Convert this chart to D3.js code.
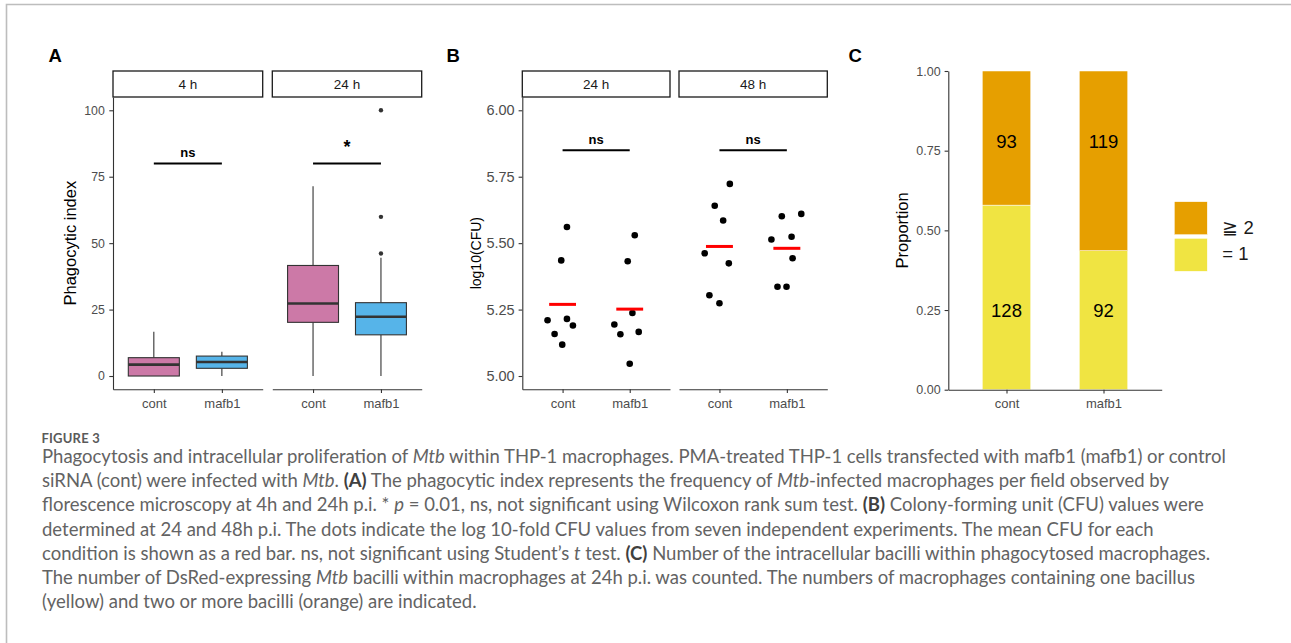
<!DOCTYPE html>
<html>
<head>
<meta charset="utf-8">
<script src="https://cdn.jsdelivr.net/npm/d3@7"></script>
<style>
  body { margin: 0; background: #fff; }
  svg { display: block; }
</style>
</head>
<body>
<div id="fig"></div>
<script>
// ---- data ----
const groups = ["cont", "mafb1"];

// A: phagocytic index, box stats
const phagoTimes = ["4 h", "24 h"];
const phagoBoxes = [
  { time: "4 h",  group: "cont",  min: 0, q1: 0,    median: 4.3,  q3: 6.9,  max: 16.7 },
  { time: "4 h",  group: "mafb1", min: 0, q1: 2.9,  median: 5.3,  q3: 7.5,  max: 9.1 },
  { time: "24 h", group: "cont",  min: 0, q1: 20.2, median: 27.3, q3: 41.6, max: 71.4 },
  { time: "24 h", group: "mafb1", min: 0, q1: 15.5, median: 22.3, q3: 27.6, max: 44.5 }
];
const phagoOutliers = [
  { time: "24 h", group: "mafb1", value: 46.1 },
  { time: "24 h", group: "mafb1", value: 59.9 },
  { time: "24 h", group: "mafb1", value: 100 }
];
const phagoSig = [
  { time: "4 h",  label: "ns", y: 80 },
  { time: "24 h", label: "*",  y: 80 }
];

// B: log10(CFU), seven experiments per condition (+ horizontal jitter as drawn)
const cfuTimes = ["24 h", "48 h"];
const cfu24cont   = [5.210, 5.158, 5.118, 5.215, 5.190, 5.435, 5.561];
const jit24cont   = [-0.224, -0.119, -0.005, 0.065, 0.154, -0.020, 0.065];
const cfu24mafb1  = [5.194, 5.157, 5.046, 5.237, 5.166, 5.432, 5.530];
const jit24mafb1  = [-0.229, -0.139, 0, 0.040, 0.134, -0.030, 0.075];
const cfu48cont   = [5.462, 5.304, 5.641, 5.274, 5.585, 5.424, 5.723];
const jit48cont   = [-0.219, -0.149, -0.070, 0, 0.055, 0.139, 0.154];
const cfu48mafb1  = [5.514, 5.336, 5.601, 5.336, 5.524, 5.443, 5.610];
const jit48mafb1  = [-0.229, -0.139, -0.075, -0.005, 0.070, 0.085, 0.214];
const cfuSig = [
  { time: "24 h", label: "ns", y: 5.85 },
  { time: "48 h", label: "ns", y: 5.85 }
];

// C: counts of macrophages by number of bacilli
const countOne = [128, 92];
const countTwoPlus = [93, 119];
const countLabelY = [0.25, 0.78];   // where the count labels sit (one, two+)
const legendLabels = ["≧ 2", "= 1"];

const yTicksA = [0, 25, 50, 75, 100];
const yTicksB = [5.00, 5.25, 5.50, 5.75, 6.00];
const yTicksC = [0, 0.25, 0.5, 0.75, 1];

const captionLines = [
  [["Phagocytosis and intracellular proliferation of "], ["Mtb", "i"], [" within THP-1 macrophages. PMA-treated THP-1 cells transfected with mafb1 (mafb1) or control"]],
  [["siRNA (cont) were infected with "], ["Mtb", "i"], [". "], ["(A)", "b"], [" The phagocytic index represents the frequency of "], ["Mtb", "i"], ["-infected macrophages per field observed by"]],
  [["florescence microscopy at 4h and 24h p.i. * "], ["p", "i"], [" = 0.01, ns, not significant using Wilcoxon rank sum test. "], ["(B)", "b"], [" Colony-forming unit (CFU) values were"]],
  [["determined at 24 and 48h p.i. The dots indicate the log 10-fold CFU values from seven independent experiments. The mean CFU for each"]],
  [["condition is shown as a red bar. ns, not significant using Student’s "], ["t", "i"], [" test. "], ["(C)", "b"], [" Number of the intracellular bacilli within phagocytosed macrophages."]],
  [["The number of DsRed-expressing "], ["Mtb", "i"], [" bacilli within macrophages at 24h p.i. was counted. The numbers of macrophages containing one bacillus"]],
  [["(yellow) and two or more bacilli (orange) are indicated."]]
];

// ---- setup ----
const W = 1291, H = 643;
const font = "'Liberation Sans', Arial, sans-serif";
const tickCol = "#4d4d4d";
const lineCol = "#333333";
const fillCol = { cont: "#CC79A7", mafb1: "#56B4E9" };

const svg = d3.select("#fig").append("svg")
  .attr("width", W).attr("height", H)
  .style("font-family", font);

svg.append("rect").attr("width", W).attr("height", H).attr("fill", "#fff");
// page frame (top and left)
svg.append("path")
  .attr("d", `M6.5,${H} V4.5 H${W}`)
  .attr("fill", "none").attr("stroke", "#bdbdbd").attr("stroke-width", 1.6);

function styleAxis(g, size) {
  g.select(".domain").attr("stroke", lineCol).attr("stroke-width", 1.1);
  g.selectAll(".tick line").attr("stroke", lineCol).attr("stroke-width", 1.1);
  g.selectAll(".tick text").attr("fill", tickCol).style("font-size", size + "px").style("font-family", font);
}

function strip(x0, x1, top, bottom, label) {
  svg.append("rect")
    .attr("x", x0).attr("y", top).attr("width", x1 - x0).attr("height", bottom - top)
    .attr("fill", "#fff").attr("stroke", "#1a1a1a").attr("stroke-width", 1.3);
  svg.append("text")
    .attr("x", (x0 + x1) / 2).attr("y", (top + bottom) / 2 + 4.8)
    .attr("text-anchor", "middle").style("font-size", "13.5px").attr("fill", "#1a1a1a")
    .text(label);
}

function panelLetter(x, label) {
  svg.append("text").attr("x", x).attr("y", 62)
    .style("font-size", "18.5px").style("font-weight", "bold").text(label);
}

// ================= Panel A =================
panelLetter(48.5, "A");
const stripTop = 71, plotTop = 97, plotBottom = 389.3;
const panelsA = [[113, 262.7], [272.3, 421.7]];

const yA = d3.scaleLinear().domain([-5, 105]).range([plotBottom, plotTop]);

phagoTimes.forEach((t, i) => {
  const [x0, x1] = panelsA[i];
  const x = d3.scalePoint().domain(groups).range([x0, x1]).padding(0.6);
  const step = x.step();
  strip(x0, x1, stripTop, plotTop, t);

  const gx = svg.append("g").attr("transform", `translate(0,${plotBottom})`)
    .call(d3.axisBottom(x).tickSize(3.7).tickSizeOuter(0).tickPadding(5.5));
  styleAxis(gx, 13);

  if (i === 0) {
    const gy = svg.append("g").attr("transform", `translate(${x0},0)`)
      .call(d3.axisLeft(yA).tickValues(yTicksA).tickSize(3.7).tickSizeOuter(0).tickPadding(4.5));
    styleAxis(gy, 12.3);
  }

  const bw = 0.75 * step;
  phagoBoxes.filter(d => d.time === t).forEach(d => {
    const cx = x(d.group);
    const g = svg.append("g");
    g.append("line").attr("x1", cx).attr("x2", cx).attr("y1", yA(d.q3)).attr("y2", yA(d.max))
      .attr("stroke", lineCol).attr("stroke-width", 1.1);
    g.append("line").attr("x1", cx).attr("x2", cx).attr("y1", yA(d.q1)).attr("y2", yA(d.min))
      .attr("stroke", lineCol).attr("stroke-width", 1.1);
    g.append("rect").attr("x", cx - bw / 2).attr("width", bw)
      .attr("y", yA(d.q3)).attr("height", yA(d.q1) - yA(d.q3))
      .attr("fill", fillCol[d.group]).attr("stroke", lineCol).attr("stroke-width", 1.1);
    g.append("line").attr("x1", cx - bw / 2).attr("x2", cx + bw / 2)
      .attr("y1", yA(d.median)).attr("y2", yA(d.median))
      .attr("stroke", lineCol).attr("stroke-width", 2.6);
  });
  svg.append("g").selectAll("circle")
    .data(phagoOutliers.filter(d => d.time === t))
    .join("circle")
    .attr("cx", d => x(d.group)).attr("cy", d => yA(d.value)).attr("r", 2.2)
    .attr("fill", lineCol);

  phagoSig.filter(d => d.time === t).forEach(s => {
    svg.append("line").attr("x1", x(groups[0])).attr("x2", x(groups[1]))
      .attr("y1", yA(s.y)).attr("y2", yA(s.y)).attr("stroke", "#000").attr("stroke-width", 2);
    const star = s.label === "*";
    svg.append("text").attr("x", (x(groups[0]) + x(groups[1])) / 2)
      .attr("y", yA(s.y) - (star ? 10.3 : 6.5))
      .attr("text-anchor", "middle").style("font-weight", "bold")
      .style("font-size", star ? "18px" : "13px").text(s.label);
  });
});

svg.append("text")
  .attr("transform", `translate(75.5,${(plotTop + plotBottom) / 2}) rotate(-90)`)
  .attr("text-anchor", "middle").style("font-size", "16.5px").text("Phagocytic index");

// ================= Panel B =================
panelLetter(446.5, "B");
const panelsB = [[522.3, 670], [679, 827.3]];
const yB = d3.scaleLinear().domain([4.95, 6.05]).range([plotBottom, plotTop]);
const cfuData = {
  "24 h": { cont: [cfu24cont, jit24cont], mafb1: [cfu24mafb1, jit24mafb1] },
  "48 h": { cont: [cfu48cont, jit48cont], mafb1: [cfu48mafb1, jit48mafb1] }
};

cfuTimes.forEach((t, i) => {
  const [x0, x1] = panelsB[i];
  const x = d3.scalePoint().domain(groups).range([x0, x1]).padding(0.6);
  const step = x.step();
  strip(x0, x1, stripTop, plotTop, t);

  const gx = svg.append("g").attr("transform", `translate(0,${plotBottom})`)
    .call(d3.axisBottom(x).tickSize(3.7).tickSizeOuter(0).tickPadding(5.5));
  styleAxis(gx, 13);
  if (i === 0) {
    const gy = svg.append("g").attr("transform", `translate(${x0},0)`)
      .call(d3.axisLeft(yB).tickValues(yTicksB).tickFormat(d3.format(".2f"))
        .tickSize(3.7).tickSizeOuter(0).tickPadding(4));
    styleAxis(gy, 14.5);
  }

  groups.forEach(grp => {
    const [vals, jit] = cfuData[t][grp];
    const pts = vals.map((v, k) => ({ v, j: jit[k] }));
    svg.append("g").selectAll("circle").data(pts).join("circle")
      .attr("cx", d => x(grp) + d.j * step).attr("cy", d => yB(d.v)).attr("r", 3.3)
      .attr("fill", "#000");
    const m = d3.mean(vals);
    svg.append("line")
      .attr("x1", x(grp) - 0.2 * step).attr("x2", x(grp) + 0.2 * step)
      .attr("y1", yB(m)).attr("y2", yB(m))
      .attr("stroke", "#ff0000").attr("stroke-width", 3);
  });

  cfuSig.filter(d => d.time === t).forEach(s => {
    svg.append("line").attr("x1", x(groups[0])).attr("x2", x(groups[1]))
      .attr("y1", yB(s.y)).attr("y2", yB(s.y)).attr("stroke", "#000").attr("stroke-width", 2);
    svg.append("text").attr("x", (x(groups[0]) + x(groups[1])) / 2)
      .attr("y", yB(s.y) - 6.3)
      .attr("text-anchor", "middle").style("font-weight", "bold").style("font-size", "13px")
      .text(s.label);
  });
});

svg.append("text")
  .attr("transform", `translate(481,${(plotTop + plotBottom) / 2 + 10}) rotate(-90)`)
  .attr("text-anchor", "middle").style("font-size", "14px").text("log10(CFU)");

// ================= Panel C =================
panelLetter(848.5, "C");
const xC = d3.scalePoint().domain(groups).range([948.3, 1161.7]).padding(0.6);
const yC = d3.scaleLinear().domain([0, 1]).range([389.7, 71]);
const barW = 0.5 * xC.step();
const orange = "#E69F00", yellow = "#F0E442";

const stacked = groups.map((g, i) => {
  const total = countOne[i] + countTwoPlus[i];
  return { group: g, one: countOne[i], two: countTwoPlus[i], p1: countOne[i] / total };
});

const bars = svg.append("g");
stacked.forEach(d => {
  bars.append("rect").attr("x", xC(d.group) - barW / 2).attr("width", barW)
    .attr("y", yC(d.p1)).attr("height", yC(0) - yC(d.p1))
    .attr("fill", yellow).attr("stroke", "#fff").attr("stroke-width", 0.5);
  bars.append("rect").attr("x", xC(d.group) - barW / 2).attr("width", barW)
    .attr("y", yC(1)).attr("height", yC(d.p1) - yC(1))
    .attr("fill", orange).attr("stroke", "#fff").attr("stroke-width", 0.5);
  bars.append("text").attr("x", xC(d.group)).attr("y", yC(countLabelY[0]) + 6.8)
    .attr("text-anchor", "middle").style("font-size", "18.5px").text(d.one);
  bars.append("text").attr("x", xC(d.group)).attr("y", yC(countLabelY[1]) + 6.8)
    .attr("text-anchor", "middle").style("font-size", "18.5px").text(d.two);
});

const gxC = svg.append("g").attr("transform", `translate(0,${yC(0)})`)
  .call(d3.axisBottom(xC).tickSize(3.7).tickSizeOuter(0).tickPadding(5));
styleAxis(gxC, 13);
const gyC = svg.append("g").attr("transform", `translate(${xC.range()[0]},0)`)
  .call(d3.axisLeft(yC).tickValues(yTicksC).tickFormat(d3.format(".2f"))
    .tickSize(3.7).tickSizeOuter(0).tickPadding(4));
styleAxis(gyC, 12.5);

svg.append("text")
  .attr("transform", `translate(908,${(yC(0) + yC(1)) / 2}) rotate(-90)`)
  .attr("text-anchor", "middle").style("font-size", "16.5px").text("Proportion");

// legend
const legX = 1174.3, legY = 201.7, keyW = 33, keyH = 33, keyGap = 3.6;
[orange, yellow].forEach((c, k) => {
  const y0 = legY + k * (keyH + keyGap);
  svg.append("rect").attr("x", legX).attr("y", y0).attr("width", keyW).attr("height", keyH)
    .attr("fill", c).attr("stroke", "#fff").attr("stroke-width", 0.5);
  svg.append("text").attr("x", legX + keyW + 15).attr("y", y0 + keyH / 2 + (k === 0 ? 15.5 : 5.5))
    .style("font-size", "18.5px").attr("fill", "#1a1a1a").text(legendLabels[k]);
});

// ================= caption =================
const capFont = "Lato, 'Open Sans', sans-serif";
svg.append("text").attr("x", 41.5).attr("y", 443)
  .style("font-family", capFont).style("font-size", "13px").style("font-weight", "bold")
  .attr("fill", "#5a5a5a").attr("letter-spacing", "0.2").text("FIGURE 3");

const cap = svg.append("g").style("font-family", capFont).attr("fill", "#636363");
const capNodes = captionLines.map((parts, li) => {
  const t = cap.append("text").attr("x", 42).attr("y", 463 + li * 24.2).style("font-size", "17px");
  parts.forEach(([s, f]) => {
    const sp = t.append("tspan").text(s);
    if (f === "i") sp.style("font-style", "italic");
    if (f === "b") sp.style("font-weight", "bold").attr("fill", "#404040");
  });
  return t;
});
// fit caption size to the reference line width
const w1 = capNodes[0].node().getComputedTextLength();
const fs = 17 * 1184 / w1;
capNodes.forEach(t => t.style("font-size", fs.toFixed(2) + "px"));
</script>
</body>
</html>
